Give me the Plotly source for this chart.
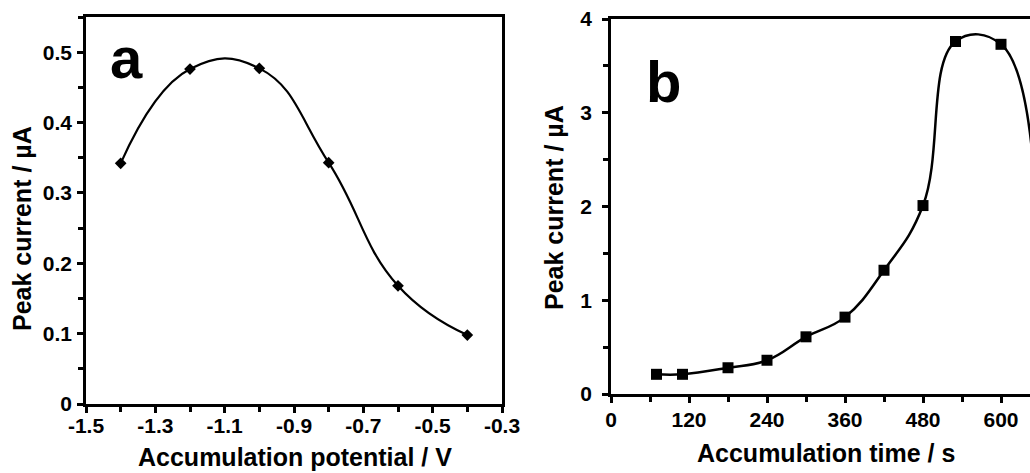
import plotly.graph_objects as go

# ---- data ----
pot_v = [-1.4, -1.2, -1.0, -0.8, -0.6, -0.4]
pot_i = [0.342, 0.476, 0.477, 0.343, 0.168, 0.098]

time_s = [70, 110, 180, 240, 300, 360, 420, 480, 530, 600, 650]
time_i = [0.21, 0.21, 0.28, 0.36, 0.61, 0.82, 1.32, 2.01, 3.76, 3.73, 2.42]

xa_tickvals = [-1.5, -1.3, -1.1, -0.9, -0.7, -0.5, -0.3]
xa_ticktext = ["-1.5", "-1.3", "-1.1", "-0.9", "-0.7", "-0.5", "-0.3"]
ya_tickvals = [0, 0.1, 0.2, 0.3, 0.4, 0.5]
ya_ticktext = ["0", "0.1", "0.2", "0.3", "0.4", "0.5"]
xb_tickvals = [0, 120, 240, 360, 480, 600]
yb_tickvals = [0, 1, 2, 3, 4]

W, H = 1030, 473
FONT = "Liberation Sans, Arial, sans-serif"


def fx(p):
    return p / W


def fy(p):
    return 1 - p / H


fig = go.Figure()
fig.add_trace(go.Scatter(
    x=pot_v, y=pot_i, mode="lines+markers",
    line=dict(color="black", width=2.2, shape="spline", smoothing=1.3),
    marker=dict(symbol="diamond", size=9, color="black"),
    xaxis="x", yaxis="y", showlegend=False, cliponaxis=False))
fig.add_trace(go.Scatter(
    x=time_s, y=time_i, mode="lines+markers",
    line=dict(color="black", width=2.5, shape="spline", smoothing=1.2),
    marker=dict(symbol="square", size=11, color="black"),
    xaxis="x2", yaxis="y2", showlegend=False, cliponaxis=False))

tickfont = dict(family=FONT, size=21, color="black", weight="bold")
common = dict(showgrid=False, zeroline=False, showline=True, linecolor="black",
              linewidth=2.5, ticks="outside", ticklen=6, tickwidth=2.5,
              tickcolor="black", tickfont=tickfont, automargin=False)


def minor(d, t0):
    return dict(ticks="outside", ticklen=5, tickwidth=2.5, tickcolor="black",
                dtick=d, tick0=t0)


fig.update_layout(
    template="none",
    width=W, height=H, autosize=False,
    margin=dict(l=0, r=0, t=0, b=0, pad=0, autoexpand=False),
    paper_bgcolor="white", plot_bgcolor="white",
    xaxis=dict(domain=[fx(86), fx(502)], range=[-1.5, -0.3], anchor="y",
               tickvals=xa_tickvals, ticktext=xa_ticktext, mirror=True,
               minor=minor(0.1, -1.5), ticklabelstandoff=-5, **common),
    yaxis=dict(domain=[fy(404), fy(17)], range=[0, 0.55], anchor="x",
               tickvals=ya_tickvals, ticktext=ya_ticktext, mirror=True,
               minor=minor(0.05, 0), ticklabelstandoff=1, **common),
    xaxis2=dict(domain=[fx(611), 1.0], range=[0, (W - 611) / 78 * 120],
                anchor="y2", tickvals=xb_tickvals, mirror=True,
                minor=minor(60, 0), ticklabelstandoff=-1, **common),
    yaxis2=dict(domain=[fy(394), fy(19)], range=[0, 4], anchor="x2",
                tickvals=yb_tickvals, mirror=False,
                minor=minor(0.5, 0), ticklabelstandoff=6, **common),
)

title_font = dict(family=FONT, size=25, color="black", weight="bold")
big_font = dict(family=FONT, size=58, color="black", weight="bold")
ann = [
    dict(text="Accumulation potential / V", x=fx(295), y=fy(457), font=title_font),
    dict(text="Peak current / µA", x=fx(22), y=fy(229), font=title_font, textangle=-90),
    dict(text="Accumulation time / s", x=fx(826), y=fy(453), font=title_font),
    dict(text="Peak current / µA", x=fx(554), y=fy(208), font=title_font, textangle=-90),
    dict(text="a", x=fx(126), y=fy(57), font=big_font),
    dict(text="b", x=fx(663), y=fy(82), font=big_font),
]
for a in ann:
    a.update(xref="paper", yref="paper", showarrow=False,
             xanchor="center", yanchor="middle")
fig.update_layout(annotations=ann)

fig.write_html("out.html",
               config={"displayModeBar": False},
               post_script="document.body.style.margin='0';"
                           "document.body.style.overflow='hidden';")
